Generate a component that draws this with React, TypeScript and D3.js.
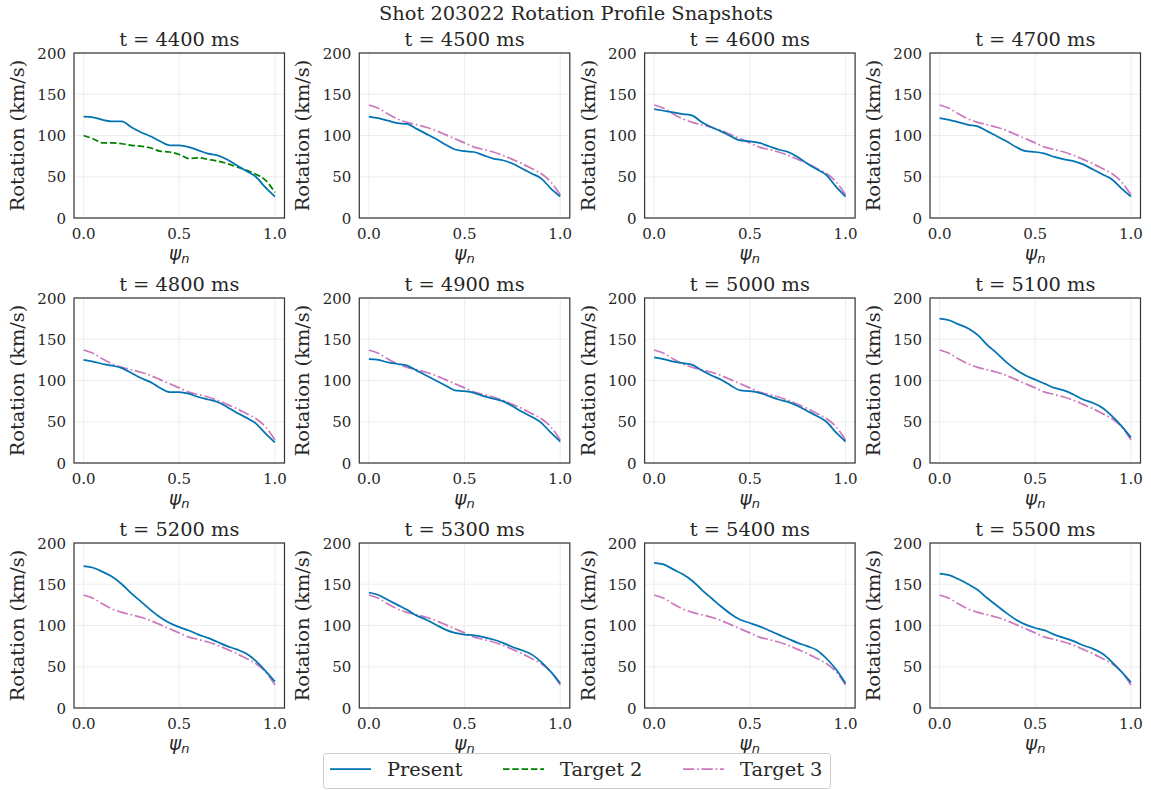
import * as d3 from 'd3';

// normalized flux coordinate
const psi = [0, 0.05, 0.1, 0.15, 0.2, 0.25, 0.3, 0.35, 0.4, 0.45, 0.5, 0.55, 0.6, 0.65, 0.7, 0.75, 0.8, 0.85, 0.9, 0.95, 1.0];

const times = [4400, 4500, 4600, 4700, 4800, 4900, 5000, 5100, 5200, 5300, 5400, 5500];

// present rotation profile (km/s) for each snapshot
const present4400 = [123, 122, 119, 117, 117, 110, 104, 99, 93, 88, 88, 86, 82, 78, 76, 71, 64, 57, 50, 37, 26];
const present4500 = [123, 121, 118, 115, 114, 108, 102, 96, 89, 83, 81, 80, 76, 72, 70, 66, 60, 54, 48, 36, 26];
const present4600 = [132, 130, 128, 126, 124, 116, 110, 105, 99, 94, 93, 91, 87, 83, 80, 74, 66, 59, 52, 38, 26];
const present4700 = [121, 119, 116, 113, 111, 105, 99, 93, 86, 81, 80, 78, 74, 71, 69, 65, 59, 53, 47, 36, 26];
const present4800 = [125, 123, 120, 118, 115, 109, 103, 98, 91, 86, 86, 84, 80, 77, 74, 68, 61, 55, 48, 36, 25];
const present4900 = [126, 125, 122, 120, 118, 112, 106, 100, 94, 88, 87, 85, 81, 78, 75, 69, 62, 56, 49, 37, 26];
const present5000 = [128, 126, 123, 121, 119, 112, 106, 101, 94, 88, 87, 85, 81, 77, 74, 69, 63, 57, 50, 37, 26];
const present5100 = [175, 173, 168, 163, 155, 143, 133, 122, 113, 106, 101, 96, 91, 88, 83, 77, 73, 67, 57, 45, 31];
const present5200 = [172, 170, 165, 159, 150, 139, 129, 119, 110, 103, 98, 94, 89, 85, 80, 75, 71, 66, 57, 45, 32];
const present5300 = [140, 137, 131, 125, 119, 112, 107, 101, 95, 91, 89, 88, 86, 83, 79, 74, 70, 65, 56, 44, 30];
const present5400 = [176, 174, 168, 162, 154, 143, 133, 123, 114, 107, 103, 99, 94, 89, 84, 79, 75, 70, 60, 47, 30];
const present5500 = [163, 161, 156, 150, 143, 133, 124, 115, 107, 101, 97, 94, 89, 85, 81, 76, 72, 66, 56, 44, 31];

const presentProfiles = [
  present4400, present4500, present4600, present4700,
  present4800, present4900, present5000, present5100,
  present5200, present5300, present5400, present5500,
];

// targets
const target2 = [100, 96, 91, 91, 90, 88, 87, 85, 81, 80, 77, 72, 73, 71, 69, 66, 62, 58, 53, 46, 31];
const target3 = [137, 133, 126, 120, 116, 113, 110, 106, 101, 96, 91, 86, 83, 80, 76, 71, 66, 60, 54, 44, 28];

const xTicks = [0, 0.5, 1.0];
const yTicks = [0, 50, 100, 150, 200];

const W = 1151;
const H = 790;
const SERIF = "'DejaVu Serif', serif";
const TXT = '#262626';

const C_PRESENT = '#0173b2';
const C_T2 = '#008000';
const C_T3 = '#cc78bc';
const LW = 1.75;

const colX = [74, 359.3, 644.6, 930];
const rowY = [53, 298, 543];
const pw = 210.5;
const ph = 165;

function Panel({ idx }: { idx: number }) {
  const col = idx % 4;
  const row = Math.floor(idx / 4);
  const x0 = colX[col];
  const y0 = rowY[row];
  const x = d3.scaleLinear().domain([-0.05, 1.05]).range([0, pw]);
  const y = d3.scaleLinear().domain([0, 200]).range([ph, 0]);
  const line = d3.line<number>().x((_, i) => x(psi[i])).y(d => y(d)).curve(d3.curveMonotoneX);
  const useT2 = idx === 0;

  return (
    <g transform={`translate(${x0},${y0})`}>
      <rect x={0} y={0} width={pw} height={ph} fill="#fff" />
      {xTicks.map(t => (
        <line key={'gx' + t} x1={x(t)} x2={x(t)} y1={0} y2={ph} stroke="#ebebeb" strokeWidth={0.9} />
      ))}
      {yTicks.map(t => (
        <line key={'gy' + t} x1={0} x2={pw} y1={y(t)} y2={y(t)} stroke="#ebebeb" strokeWidth={0.9} />
      ))}
      {useT2 ? (
        <path d={line(target2) || ''} fill="none" stroke={C_T2} strokeWidth={LW} strokeDasharray="6.5,2.8" />
      ) : (
        <path d={line(target3) || ''} fill="none" stroke={C_T3} strokeWidth={LW} strokeDasharray="11.2,2.8,1.75,2.8" />
      )}
      <path d={line(presentProfiles[idx]) || ''} fill="none" stroke={C_PRESENT} strokeWidth={LW} />
      <rect x={0} y={0} width={pw} height={ph} fill="none" stroke="#3a3a3a" strokeWidth={1.25} />
      {xTicks.map(t => (
        <text key={'tx' + t} x={x(t)} y={ph + 21} textAnchor="middle" fontFamily={SERIF} fontSize={15} fill={TXT}>
          {t.toFixed(1)}
        </text>
      ))}
      {yTicks.map(t => (
        <text key={'ty' + t} x={-8} y={y(t) + 5.5} textAnchor="end" fontFamily={SERIF} fontSize={15} fill={TXT}>
          {t}
        </text>
      ))}
      <text x={pw / 2} y={-7} textAnchor="middle" fontFamily={SERIF} fontSize={19.4} fill={TXT}>
        {`t = ${times[idx]} ms`}
      </text>
      <text transform={`translate(${-50},${ph / 2}) rotate(-90)`} textAnchor="middle" fontFamily={SERIF} fontSize={19.4} fill={TXT}>
        Rotation (km/s)
      </text>
      <text x={pw / 2} y={ph + 42} textAnchor="middle" fontFamily="'DejaVu Sans', sans-serif" fontStyle="italic" fontSize={18.5} fill={TXT}>
        ψ<tspan fontSize={13} dy={3}>n</tspan>
      </text>
    </g>
  );
}

function Legend() {
  const items = [
    { label: 'Present', color: C_PRESENT, dash: undefined as string | undefined, x: 330 },
    { label: 'Target 2', color: C_T2, dash: '6.5,2.8', x: 503 },
    { label: 'Target 3', color: C_T3, dash: '11.2,2.8,1.75,2.8', x: 683 },
  ];
  return (
    <g>
      <rect x={323.5} y={753.5} width={507} height={35} rx={3} fill="#fff" fillOpacity={0.8} stroke="#cccccc" strokeWidth={1} />
      {items.map(it => (
        <g key={it.label}>
          <line x1={it.x} x2={it.x + 41} y1={769} y2={769} stroke={it.color} strokeWidth={LW} strokeDasharray={it.dash} />
          <text x={it.x + 57} y={776} fontFamily={SERIF} fontSize={19.4} fill={TXT}>{it.label}</text>
        </g>
      ))}
    </g>
  );
}

export default function App() {
  return (
    <svg width={W} height={H} style={{ display: 'block', position: 'absolute', left: 0, top: 0 }}>
      <rect width={W} height={H} fill="#fff" />
      <text x={576} y={20} textAnchor="middle" fontFamily={SERIF} fontSize={19.4} fill={TXT}>
        Shot 203022 Rotation Profile Snapshots
      </text>
      {times.map((_, i) => <Panel key={i} idx={i} />)}
      <Legend />
    </svg>
  );
}
